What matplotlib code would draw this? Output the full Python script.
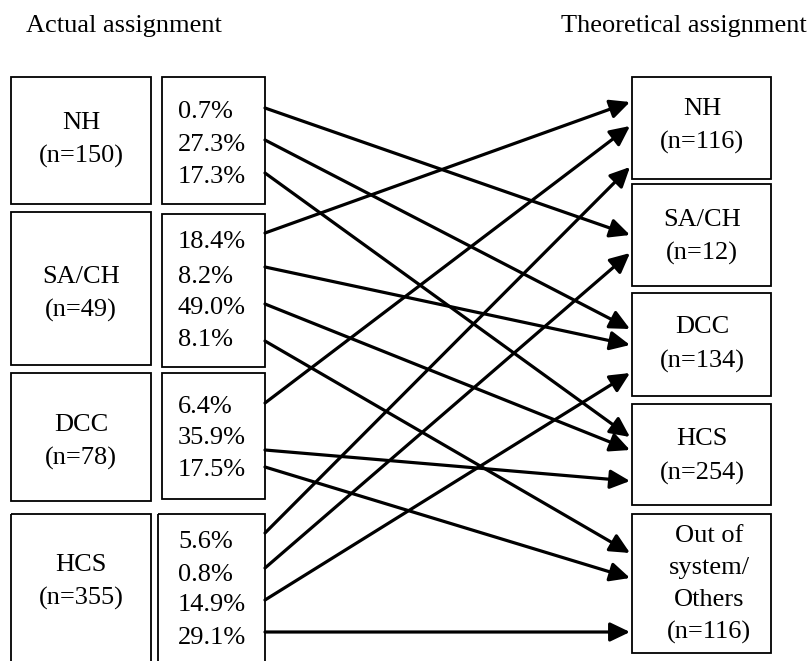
import matplotlib.pyplot as plt
from matplotlib.patches import Rectangle

# actual assignment (left side)
groups = ["NH", "SA/CH", "DCC", "HCS"]
group_n = [150, 49, 78, 355]
shares = [
    ["0.7%", "27.3%", "17.3%"],
    ["18.4%", "8.2%", "49.0%", "8.1%"],
    ["6.4%", "35.9%", "17.5%"],
    ["5.6%", "0.8%", "14.9%", "29.1%"],
]
# which theoretical box each share goes to
targets = [
    [1, 2, 3],
    [0, 2, 3, 4],
    [0, 3, 4],
    [0, 1, 2, 4],
]

# theoretical assignment (right side)
theory = ["NH", "SA/CH", "DCC", "HCS", "Out of\nsystem/\nOthers"]
theory_n = [116, 12, 134, 254, 116]

# ---- layout (pixel units, y downwards) ----
W, H = 808, 661
grp_box = [(77, 204), (212, 365), (373, 501), (514, 700)]
pct_box = [(77, 204), (214, 367), (373, 499), (514, 700)]
pct_x0 = [162, 162, 162, 158]
grp_label_y = [140, 294, 442, 582]
row_y = [[112, 145, 177], [242, 277, 308, 340], [407, 438, 470], [542, 575, 605, 638]]
start_y = [[108, 140, 173], [233, 267, 304, 341], [403, 450, 467], [533, 568, 600, 632]]
end_y = [[235, 329, 437], [102, 345, 450, 553], [126, 481, 578], [167, 253, 373, 632]]
th_box = [(77, 179), (184, 286), (293, 396), (404, 505), (514, 653)]
th_label_dy = [-2, 2, 0, 2, 1]

fig = plt.figure(figsize=(W / 100, H / 100), dpi=100)
ax = fig.add_axes([0, 0, 1, 1])
ax.set_xlim(0, W)
ax.set_ylim(H, 0)
ax.axis("off")

font = dict(family="Liberation Serif", size=19, color="black")
box_kw = dict(fill=False, lw=1.3, edgecolor="black")

ax.text(26, 26, "Actual assignment", ha="left", va="center", **font)
ax.text(561, 26, "Theoretical assignment", ha="left", va="center", **font)

for i, g in enumerate(groups):
    t, b = grp_box[i]
    ax.add_patch(Rectangle((11, t), 140, b - t, **box_kw))
    ax.text(81, grp_label_y[i], f"{g}\n(n={group_n[i]})", ha="center", va="center",
            linespacing=1.63, **font)
    t, b = pct_box[i]
    ax.add_patch(Rectangle((pct_x0[i], t), 265 - pct_x0[i], b - t, **box_kw))
    for j, s in enumerate(shares[i]):
        ax.text(178, row_y[i][j], s, ha="left", va="center", **font)
        ax.annotate("", xy=(630, end_y[i][j]), xytext=(265, start_y[i][j]),
                    arrowprops=dict(arrowstyle="-|>,head_length=0.75,head_width=0.36",
                                    mutation_scale=16, lw=2.3, color="black",
                                    shrinkA=0, shrinkB=0))

for k, name in enumerate(theory):
    t, b = th_box[k]
    ax.add_patch(Rectangle((632, t), 139, b - t, **box_kw))
    cx = 709 if k == 4 else 702
    ls = 1.56 if k == 4 else 1.63
    ax.text(cx, (t + b) / 2 + th_label_dy[k], f"{name}\n(n={theory_n[k]})",
            ha="center", va="center", linespacing=ls, **font)

fig.savefig("out.png", dpi=100)
